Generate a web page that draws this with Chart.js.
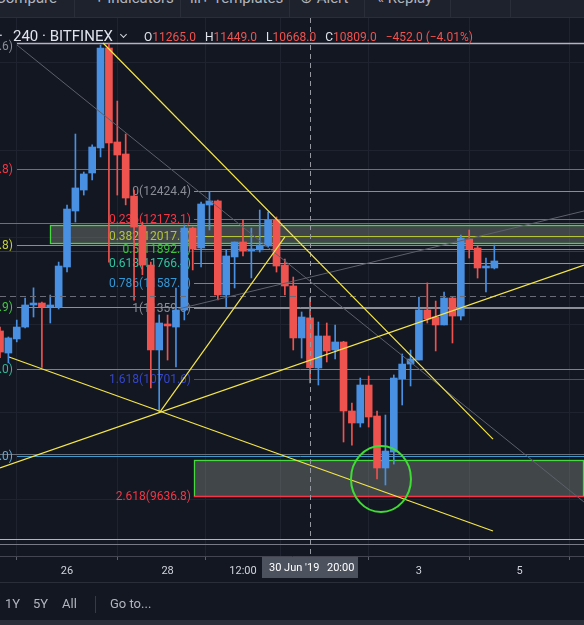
<!DOCTYPE html>
<html>
<head>
<meta charset="utf-8">
<title>BTCUSD 240 BITFINEX</title>
<script src="https://cdn.jsdelivr.net/npm/chart.js@4.4.1/dist/chart.umd.min.js"></script>
<style>
  html, body { margin: 0; padding: 0; background: #131722; overflow: hidden; }
  #wrap { position: relative; width: 584px; height: 625px; font-family: Roboto, 'Noto Sans', sans-serif; }
  #chart { position: absolute; left: 0; top: 0; }
  .abs { position: absolute; white-space: nowrap; }
  #toolbar { position: absolute; left: 0; top: 0; width: 584px; height: 17px; background: #1e222d; border-bottom: 1px solid #2a2e39; overflow: hidden; }
  #toolbar span { position: absolute; top: -9px; font-size: 15px; line-height: 15px; color: #b2b5be; }
  #toolbar i { position: absolute; top: 0; width: 1px; height: 17px; background: #2a2e39; }
  #sym { left: 13px; top: 29px; font-size: 15px; line-height: 15px; color: #e0e3eb; }
  #dot { left: -1px; top: 29px; font-size: 15px; line-height: 15px; color: #e0e3eb; }
  #chev { left: 121px; top: 32px; width: 4px; height: 4px; border-right: 1px solid #d1d4dc; border-bottom: 1px solid #d1d4dc; transform: rotate(45deg); }
  #ohlc { left: 144px; top: 31px; font-size: 12px; line-height: 12px; color: #e0e3eb; }
  #ohlc b { font-weight: normal; color: #ef5350; margin-right: 9px; }
  #bottom { position: absolute; left: 0; top: 582px; width: 584px; height: 43px; border-top: 1px solid #2a2e39; }
  #bottom span { position: absolute; top: 14px; font-size: 13px; line-height: 13px; color: #b2b5be; }
  #bottom i { position: absolute; left: 95px; top: 13px; width: 1px; height: 17px; background: #363a45; }
  #strip { position: absolute; left: 0; top: 37px; width: 584px; height: 6px; background: #2a2e39; }
</style>
</head>
<body>
<div id="wrap">
  <canvas id="chart" width="584" height="625"></canvas>
  <div id="toolbar">
    <span style="left:-4px">Compare</span><i style="left:74px"></i>
    <span style="left:95px">+ Indicators</span><i style="left:180px"></i>
    <span style="left:190px">ılı+ Templates</span><i style="left:289px"></i>
    <span style="left:300px">⊕ Alert</span><i style="left:364px"></i>
    <span style="left:377px">« Replay</span><i style="left:450px"></i>
    <i style="left:510px"></i>
  </div>
  <div class="abs" id="dot">·</div>
  <div class="abs" id="sym">240 · BITFINEX</div>
  <div class="abs" id="chev"></div>
  <div class="abs" id="ohlc">O<b>11265.0</b>H<b>11449.0</b>L<b>10668.0</b>C<b>10809.0</b><b>−452.0 (−4.01%)</b></div>
  <div id="bottom">
    <span style="left:5px">1Y</span>
    <span style="left:33px">5Y</span>
    <span style="left:62px">All</span>
    <i></i>
    <span style="left:110px">Go to...</span>
    <div id="strip"></div>
  </div>
</div>
<script>
// BTCUSD 4h candles, first one is 24 Jun 16:00 (index 0 = 26 Jun 00:00)
const candleStart = -8;
const opens  = [11145, 10943, 11072, 11181, 11383, 11401, 11365, 11365, 11731, 12244,
                12436, 12592, 12821, 13737, 12876, 12766, 12381, 12106, 11749, 10971,
                11209, 11181, 11337, 12088, 11905, 12299, 12336, 11475, 11823, 11960,
                11878, 11887, 11923, 12162, 11749, 11557, 11081, 11265, 10806, 11099,
                10971, 11044, 10412, 10302, 10650, 10366, 9890, 10036, 10705, 10842,
                10879, 11337, 11273, 11200, 11447, 11282, 11987, 11905, 11722, 11722];
const highs  = [11180, 11090, 11245, 11447, 11540, 11410, 11474, 11776, 12299, 12949,
                12601, 12849, 13764, 13775, 13251, 12949, 12436, 12143, 11776, 11292,
                11291, 11539, 12116, 12097, 12326, 12418, 12345, 11887, 11960, 12162,
                12088, 12253, 12235, 12189, 11804, 11639, 11319, 11449, 11227, 11218,
                11200, 11050, 10485, 10714, 10732, 10412, 10375, 10742, 10934, 10970,
                11456, 11585, 11419, 11502, 11456, 12024, 12070, 11923, 11813, 11932];
const lows   = [10900, 10852, 11045, 11172, 11273, 10810, 11218, 11346, 11685, 12143,
                12390, 12528, 12739, 11776, 12390, 12300, 11428, 11660, 10623, 10403,
                10879, 10815, 11246, 11704, 11731, 12070, 11429, 11365, 11539, 11832,
                11631, 11868, 11914, 11685, 11475, 10971, 10897, 10668, 10650, 10861,
                10888, 10128, 10100, 10265, 10265, 9789, 9734, 9926, 10467, 10641,
                10879, 11218, 10962, 11200, 11035, 11246, 11813, 11630, 11502, 11713];
const closes = [10952, 11081, 11181, 11383, 11401, 11365, 11383, 11740, 12262, 12455,
                12583, 12830, 13737, 12867, 12757, 12363, 12097, 11749, 10971, 11218,
                11191, 11337, 12088, 11896, 12308, 12336, 11475, 11832, 11960, 11878,
                11896, 11932, 12162, 11740, 11557, 11081, 11273, 10809, 11099, 10962,
                11044, 10412, 10302, 10650, 10357, 9890, 10045, 10714, 10842, 10888,
                11337, 11255, 11200, 11447, 11282, 11996, 11896, 11722, 11740, 11786];

// x axis ticks (candle index) and their labels
const tickIdx    = [0, 12, 21, 30, 42, 54];
const tickLabels = ['26', '28', '12:00', '', '3', '5'];
const crossIdx = 29;
const crossPrice = 11465;
const crossLabel = ["30 Jun '19", '20:00'];

// fibonacci retracement
const fibStart  = 15.1;
const fibRatios = ['0', '0.236', '0.382', '0.5', '0.618', '0.786', '1', '1.618', '2.618'];
const fibPrices = [12424.4, 12173.1, 12017.7, 11892.0, 11766.4, 11587.5, 11359.6, 10701.6, 9636.8];
const fibColors = ['#8a8d96', '#f23645', '#b5c53a', '#3fc23f', '#2fc4a0', '#3197d6', '#8a8d96', '#3546c8', '#f23645'];

// horizontal lines with labels cut at the left edge
const levelPrices = [13781.6, 12626.8, 12131.0, 11929.8, 11880.0, 11361.9, 10800.0, 10020.0, 10000.0, 9242.0, 9197.0];
const levelLabels = ['(13781.6)', '(12626.8)', '', '(11929.8)', '', '(11361.9)', '(10800.0)', '', '(10000.0)', '', ''];
const levelColors = ['#b2b5be', '#f23645', '#f23645', '#8f9c2e', '#2b2f9e', '#46c446', '#36a58c', '#6b6f7a', '#3f9acb', '#b2b5be', '#787b86'];
const levelText   = ['#8a8d96', '#f23645', '', '#c4d03c', '', '#46c446', '#36b596', '', '#56aee0', '', ''];

// rectangles [startIdx, endIdx, topPrice, bottomPrice]
const zones = [[-2.0, 64, 12114, 11950], [15.1, 61.55, 9960, 9637]];

// trend lines [[idx, price], [idx, price]]
const yellowLines = [
  [[4.3, 13783], [50.84, 10155]],
  [[-6.92, 10907], [50.84, 9313]],
  [[-8, 9890], [61.7, 11749]],
  [[11.1, 10403], [26.0, 12006]]
];
const grayLines = [
  [[-5.97, 13764], [61.7, 9578]],
  [[13.25, 11346], [61.7, 12244]]
];
// circle [centerIdx, centerPrice, radiusIdx, radiusPrice]
const ring = [37.47, 9789, 3.58, 302];

const bull = '#4a90e2', bear = '#ef5350';
const idx = opens.map((_, i) => i + candleStart);
const candleColors = opens.map((o, i) => closes[i] >= o ? bull : bear);

function line(ctx, x1, y1, x2, y2) {
  ctx.beginPath();
  ctx.moveTo(x1, y1);
  ctx.lineTo(x2, y2);
  ctx.stroke();
}

const drawings = {
  id: 'drawings',
  beforeDatasetsDraw(chart) {
    const { ctx, chartArea: a, scales: { x, y } } = chart;
    ctx.save();
    ctx.beginPath();
    ctx.rect(a.left, a.top, a.right - a.left, a.bottom - a.top);
    ctx.clip();
    ctx.font = '12px Roboto, sans-serif';
    ctx.textBaseline = 'middle';

    // zones
    zones.forEach(z => {
      const x1 = Math.round(x.getPixelForValue(z[0])) + 0.5;
      const x2 = Math.round(x.getPixelForValue(z[1])) + 0.5;
      const y1 = Math.round(y.getPixelForValue(z[2])) + 0.5;
      const y2 = Math.round(y.getPixelForValue(z[3])) + 0.5;
      ctx.fillStyle = 'rgba(128,138,128,0.42)';
      ctx.fillRect(x1, y1, x2 - x1, y2 - y1);
      ctx.strokeStyle = '#45d83f';
      ctx.lineWidth = 1.3;
      ctx.strokeRect(x1, y1, x2 - x1, y2 - y1);
    });

    // left labelled lines
    levelPrices.forEach((p, i) => {
      const yy = Math.round(y.getPixelForValue(p)) + 0.5;
      const xs = levelLabels[i] ? 17 : a.left;
      ctx.strokeStyle = levelColors[i];
      ctx.lineWidth = i === 0 ? 1.5 : 1;
      line(ctx, xs, yy, a.right, yy);
      if (levelLabels[i]) {
        ctx.fillStyle = levelText[i];
        ctx.textAlign = 'right';
        ctx.fillText(levelLabels[i], 13, yy + (i === 0 ? 3 : 0));
      }
    });

    // fibonacci levels
    const fx = Math.round(x.getPixelForValue(fibStart));
    fibPrices.forEach((p, i) => {
      const yy = Math.round(y.getPixelForValue(p)) + 0.5;
      ctx.strokeStyle = fibColors[i];
      ctx.lineWidth = 1;
      line(ctx, fx, yy, a.right, yy);
      ctx.fillStyle = fibColors[i];
      ctx.textAlign = 'right';
      ctx.fillText(fibRatios[i] + '(' + p.toFixed(1) + ')', fx - 3, yy);
    });
    ctx.restore();
  },
  afterDatasetsDraw(chart) {
    const { ctx, chartArea: a, scales: { x, y } } = chart;
    ctx.save();
    ctx.beginPath();
    ctx.rect(a.left, a.top, a.right - a.left, a.bottom - a.top);
    ctx.clip();

    // crosshair
    const cx = Math.round(x.getPixelForValue(crossIdx)) + 0.5;
    const cy = Math.round(y.getPixelForValue(crossPrice)) + 0.5;
    ctx.setLineDash([6, 4]);
    ctx.strokeStyle = '#6a6d78';
    ctx.lineWidth = 1;
    line(ctx, a.left, cy, a.right, cy);
    ctx.setLineDash([5, 4]);
    ctx.strokeStyle = '#9598a1';
    line(ctx, cx, a.top, cx, a.bottom);
    ctx.setLineDash([]);

    ctx.lineWidth = 1;
    ctx.strokeStyle = '#5d606b';
    grayLines.forEach(l => line(ctx,
      x.getPixelForValue(l[0][0]), y.getPixelForValue(l[0][1]),
      x.getPixelForValue(l[1][0]), y.getPixelForValue(l[1][1])));

    ctx.strokeStyle = '#f5e64a';
    ctx.lineWidth = 1.2;
    yellowLines.forEach(l => line(ctx,
      x.getPixelForValue(l[0][0]), y.getPixelForValue(l[0][1]),
      x.getPixelForValue(l[1][0]), y.getPixelForValue(l[1][1])));

    const ex = x.getPixelForValue(ring[0]);
    const ey = y.getPixelForValue(ring[1]);
    const rx = x.getPixelForValue(ring[0] + ring[2]) - ex;
    const ry = ey - y.getPixelForValue(ring[1] + ring[3]);
    ctx.strokeStyle = '#3fdc34';
    ctx.lineWidth = 2;
    ctx.beginPath();
    ctx.ellipse(ex, ey, rx, ry, 0, 0, Math.PI * 2);
    ctx.stroke();
    ctx.restore();
  },
  afterDraw(chart) {
    const { ctx, chartArea: a, scales: { x } } = chart;
    const cx = Math.round(x.getPixelForValue(crossIdx));
    ctx.save();
    ctx.fillStyle = '#4c525e';
    ctx.fillRect(cx - 48, a.bottom + 1, 96, 21);
    ctx.fillStyle = '#ffffff';
    ctx.font = '11px Roboto, sans-serif';
    ctx.textBaseline = 'middle';
    ctx.textAlign = 'left';
    ctx.fillText(crossLabel[0], cx - 41, a.bottom + 12);
    ctx.fillText(crossLabel[1], cx + 17, a.bottom + 12);
    ctx.restore();
  }
};

new Chart(document.getElementById('chart'), {
  type: 'bar',
  data: {
    datasets: [
      {
        label: 'wick',
        data: idx.map((k, i) => ({ x: k, y: [lows[i], highs[i]] })),
        backgroundColor: candleColors,
        barThickness: 1,
        grouped: false,
        order: 2
      },
      {
        label: 'body',
        data: idx.map((k, i) => ({ x: k, y: [opens[i], closes[i]] })),
        backgroundColor: candleColors,
        barThickness: 7,
        minBarLength: 1,
        grouped: false,
        order: 1
      }
    ]
  },
  options: {
    responsive: false,
    animation: false,
    events: [],
    layout: { padding: { top: 18, bottom: 43, left: 0, right: 0 } },
    plugins: { legend: { display: false }, tooltip: { enabled: false } },
    scales: {
      x: {
        type: 'linear',
        min: -8,
        max: 61.7,
        offset: false,
        border: { display: true, color: '#434651' },
        grid: { color: '#1f2330', tickColor: '#5d606b', tickLength: 4 },
        ticks: {
          autoSkip: false,
          maxRotation: 0,
          padding: 5,
          color: '#d1d4dc',
          font: { family: 'Roboto', size: 11 },
          callback: v => tickLabels[tickIdx.indexOf(v)] ?? ''
        },
        afterBuildTicks: s => { s.ticks = tickIdx.map(v => ({ value: v })); },
        afterFit: s => { s.height = 26; }
      },
      y: {
        type: 'linear',
        min: 9083.7,
        max: 14011.8,
        border: { display: false },
        grid: { color: '#1f2330', drawTicks: false },
        ticks: { display: false },
        afterBuildTicks: s => { s.ticks = [9600, 10400, 11200, 12000, 12800, 13600].map(v => ({ value: v })); },
        afterFit: s => { s.width = 0; }
      }
    }
  },
  plugins: [drawings]
});
</script>
</body>
</html>
